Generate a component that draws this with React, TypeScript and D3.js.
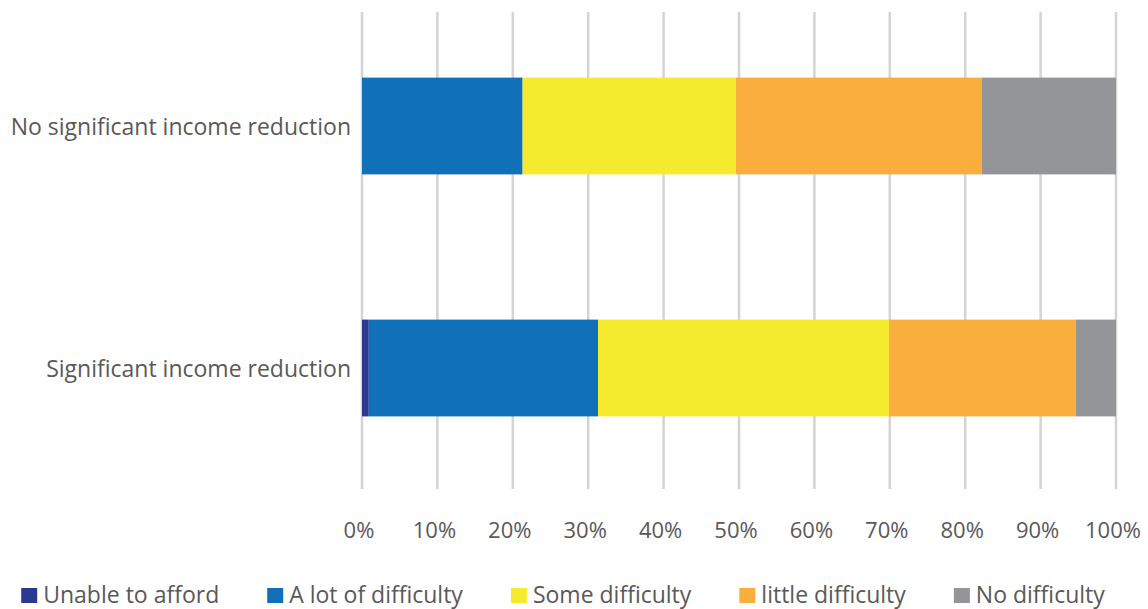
import React, { useEffect, useRef } from "react";
import * as d3 from "d3";

// Rows, top to bottom
const categories = ["No significant income reduction", "Significant income reduction"];

// Response levels, stacked left to right
const seriesNames = ["Unable to afford", "A lot of difficulty", "Some difficulty", "little difficulty", "No difficulty"];
const seriesColors = ["#2B3990", "#1071B8", "#F4EB2E", "#F9AE3E", "#939598"];

// Percent of respondents in each level, one array per level (same order as categories)
const unableToAfford = [0, 0.9];
const aLotOfDifficulty = [21.3, 30.4];
const someDifficulty = [28.3, 38.6];
const littleDifficulty = [32.6, 24.8];
const noDifficulty = [17.8, 5.3];

const tickValues = [0, 10, 20, 30, 40, 50, 60, 70, 80, 90, 100];

const W = 1148;
const H = 609;
const FONT = "'Open Sans', sans-serif";
const TEXT = "#595959";

export default function App() {
  const ref = useRef<SVGSVGElement | null>(null);

  useEffect(() => {
    const svg = d3.select(ref.current);
    svg.selectAll("*").remove();

    const seriesValues = [unableToAfford, aLotOfDifficulty, someDifficulty, littleDifficulty, noDifficulty];
    const rows = categories.map((c, i) => {
      const row: Record<string, any> = { category: c };
      seriesNames.forEach((s, k) => (row[s] = seriesValues[k][i]));
      return row;
    });
    const stacked = d3.stack<any>().keys(seriesNames)(rows);

    const x = d3.scaleLinear().domain([0, 100]).range([362, 1116]);
    const y = d3.scaleBand<string>().domain(categories).range([5, 489]).paddingInner(0.6).paddingOuter(0.3);

    // vertical gridlines
    svg
      .append("g")
      .selectAll("line")
      .data(tickValues)
      .join("line")
      .attr("x1", (d) => x(d))
      .attr("x2", (d) => x(d))
      .attr("y1", 12)
      .attr("y2", 489)
      .attr("stroke", "#d4d4d4")
      .attr("stroke-width", 2.5);

    // stacked bars
    const layers = svg
      .append("g")
      .selectAll("g")
      .data(stacked)
      .join("g")
      .attr("fill", (_, i) => seriesColors[i]);
    layers
      .selectAll("rect")
      .data((d) => d)
      .join("rect")
      .attr("x", (d) => x(d[0]))
      .attr("width", (d) => Math.max(0, x(d[1]) - x(d[0])))
      .attr("y", (d) => y(d.data.category)!)
      .attr("height", y.bandwidth());

    // category labels
    svg
      .append("g")
      .selectAll("text")
      .data(categories)
      .join("text")
      .attr("x", 351)
      .attr("y", (d) => y(d)! + y.bandwidth() / 2 + 9)
      .attr("text-anchor", "end")
      .attr("font-family", FONT)
      .attr("font-size", 23)
      .attr("fill", TEXT)
      .text((d) => d);

    // x tick labels
    svg
      .append("g")
      .selectAll("text")
      .data(tickValues)
      .join("text")
      .attr("x", (d) => x(d) - 3)
      .attr("y", 538)
      .attr("text-anchor", "middle")
      .attr("font-family", FONT)
      .attr("font-size", 22)
      .attr("fill", TEXT)
      .text((d) => `${d}%`);

    // legend
    const legend = svg.append("g");
    const items = legend
      .selectAll("g")
      .data(seriesNames)
      .join("g");
    items
      .append("rect")
      .attr("x", 0)
      .attr("y", 588)
      .attr("width", 16)
      .attr("height", 15)
      .attr("fill", (_, i) => seriesColors[i]);
    items
      .append("text")
      .attr("x", 22)
      .attr("y", 603)
      .attr("font-family", FONT)
      .attr("font-size", 23)
      .attr("fill", TEXT)
      .text((d) => d);

    const gap = 48;
    const widths: number[] = [];
    items.each(function () {
      const t = d3.select(this).select("text").node() as SVGTextElement;
      widths.push(22 + t.getComputedTextLength());
    });
    const total = d3.sum(widths) + gap * (widths.length - 1);
    let cx = 563 - total / 2;
    items.attr("transform", (_, i) => {
      const tx = cx;
      cx += widths[i] + gap;
      return `translate(${tx},0)`;
    });
  }, []);

  return (
    <svg
      ref={ref}
      width={W}
      height={H}
      style={{ position: "absolute", left: 0, top: 0, background: "#fff" }}
    />
  );
}
